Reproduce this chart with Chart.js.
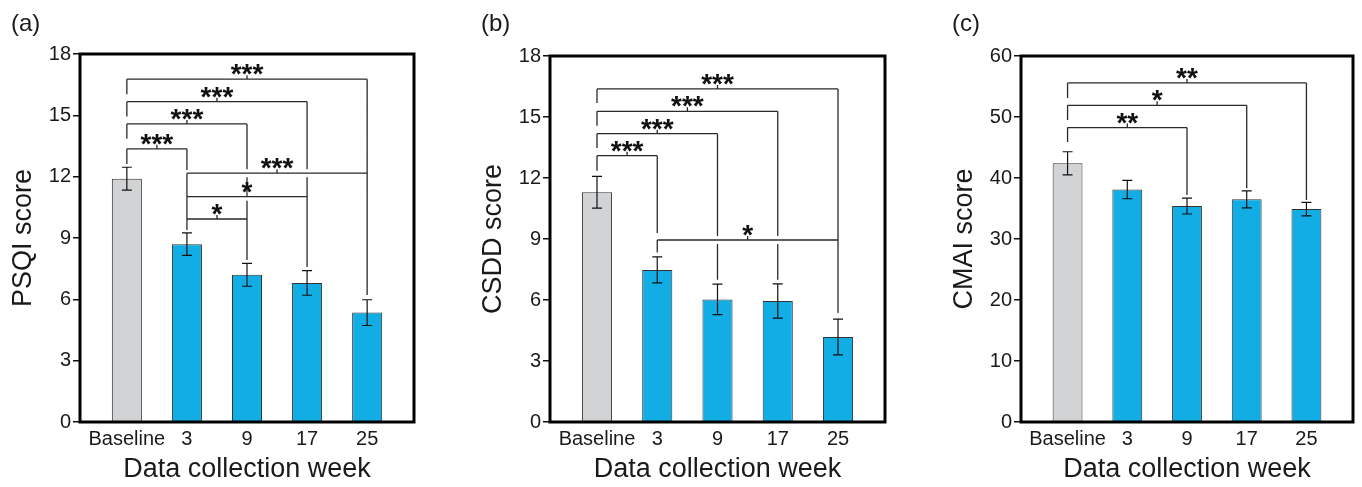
<!DOCTYPE html>
<html>
<head>
<meta charset="utf-8">
<script src="https://cdn.jsdelivr.net/npm/chart.js@4.4.1/dist/chart.umd.min.js"></script>
<style>
  html, body { margin: 0; padding: 0; background: #fff; width: 1362px; height: 487px; overflow: hidden; }
  canvas { position: absolute; top: 0; }
</style>
</head>
<body>
<canvas id="panelA" width="430" height="487" style="left:0px"></canvas>
<canvas id="panelB" width="430" height="487" style="left:470px"></canvas>
<canvas id="panelC" width="421" height="487" style="left:941px"></canvas>
<script>
const weeks = ['Baseline', '3', '9', '17', '25'];

const psqiMean = [11.9, 8.7, 7.2, 6.8, 5.35];
const psqiErr = [0.56, 0.55, 0.56, 0.6, 0.63];

const csddMean = [11.3, 7.48, 6.03, 5.95, 4.18];
const csddErr = [0.78, 0.64, 0.75, 0.84, 0.88];

const cmaiMean = [42.4, 38.1, 35.4, 36.5, 34.9];
const cmaiErr = [1.9, 1.5, 1.3, 1.4, 1.1];

// significance brackets: bar indexes, bracket height and leg ends in score units
const psqiSig = [
    { from: 0, to: 1, at: 13.36, leftTo: 12.62, rightTo: 12.33, text: '***' },
    { from: 0, to: 2, at: 14.58, leftTo: 13.85, rightTo: 7.93, text: '***' },
    { from: 0, to: 3, at: 15.67, leftTo: 14.94, rightTo: 7.58, text: '***' },
    { from: 0, to: 4, at: 16.77, leftTo: 16.03, rightTo: 6.21, text: '***' },
    { from: 1, to: 4, at: 12.17, leftTo: 9.39, rightTo: 6.21, text: '***' },
    { from: 1, to: 3, at: 11.02, leftTo: 9.39, rightTo: 7.58, text: '*' },
    { from: 1, to: 2, at: 9.93, leftTo: 9.39, rightTo: 7.93, text: '*' },
];
const csddSig = [
    { from: 0, to: 1, at: 13.1, leftTo: 12.36, rightTo: 9.29, text: '***' },
    { from: 0, to: 2, at: 14.18, leftTo: 13.48, rightTo: 7.0, text: '***' },
    { from: 0, to: 3, at: 15.28, leftTo: 14.57, rightTo: 7.0, text: '***' },
    { from: 0, to: 4, at: 16.38, leftTo: 15.69, rightTo: 5.36, text: '***' },
    { from: 1, to: 4, at: 8.95, leftTo: 8.33, rightTo: 5.36, text: '*' },
];
const cmaiSig = [
    { from: 0, to: 2, at: 48.26, leftTo: 45.9, rightTo: 37.23, text: '**' },
    { from: 0, to: 3, at: 51.92, leftTo: 49.5, rightTo: 38.33, text: '*' },
    { from: 0, to: 4, at: 55.58, leftTo: 53.1, rightTo: 36.4, text: '**' },
];

const BLUE = '#11ADE4';
const GREY = '#D2D3D5';
const INK = '#1a1a1a';

Chart.defaults.font.family = '"Liberation Sans", Arial, sans-serif';

const extras = (label, means, errs, sig) => ({
    id: 'extras',
    afterDatasetsDraw: chart => {
        const { ctx, chartArea: area, scales: { x, y } } = chart;
        ctx.save();

        // error bars
        ctx.strokeStyle = '#111';
        ctx.lineWidth = 1.2;
        ctx.beginPath();
        means.forEach((m, i) => {
            const px = x.getPixelForValue(i);
            const top = y.getPixelForValue(m + errs[i]);
            const bot = y.getPixelForValue(m - errs[i]);
            ctx.moveTo(px, top); ctx.lineTo(px, bot);
            ctx.moveTo(px - 5, top); ctx.lineTo(px + 5, top);
            ctx.moveTo(px - 5, bot); ctx.lineTo(px + 5, bot);
        });
        ctx.stroke();

        const br = sig.map(s => ({
            x1: x.getPixelForValue(s.from),
            x2: x.getPixelForValue(s.to),
            y0: y.getPixelForValue(s.at),
            yl: y.getPixelForValue(s.leftTo),
            yr: y.getPixelForValue(s.rightTo),
            text: s.text
        }));

        ctx.strokeStyle = '#2a2a2a';
        ctx.lineWidth = 1.3;
        ctx.beginPath();
        br.forEach(b => {
            ctx.moveTo(b.x1, b.y0); ctx.lineTo(b.x1, b.yl);
            ctx.moveTo(b.x2, b.y0); ctx.lineTo(b.x2, b.yr);
        });
        ctx.stroke();

        // small white gaps where a bracket crosses other legs
        ctx.fillStyle = '#fff';
        br.forEach(b => ctx.fillRect(b.x1 + 2, b.y0 - 4, b.x2 - b.x1 - 4, 8));

        ctx.beginPath();
        br.forEach(b => {
            const c = (b.x1 + b.x2) / 2;
            ctx.moveTo(b.x1, b.y0); ctx.lineTo(b.x2, b.y0);
            ctx.moveTo(c, b.y0); ctx.lineTo(c, b.y0 - 4);
        });
        ctx.stroke();

        ctx.fillStyle = '#111';
        ctx.font = 'bold 28px "Liberation Sans", Arial, sans-serif';
        ctx.textAlign = 'center';
        ctx.textBaseline = 'alphabetic';
        br.forEach(b => ctx.fillText(b.text, (b.x1 + b.x2) / 2, b.y0 + 4));

        // box round the plot
        ctx.lineWidth = 3;
        ctx.strokeStyle = '#000';
        ctx.strokeRect(area.left, area.top, area.right - area.left, area.bottom - area.top);

        ctx.fillStyle = INK;
        ctx.font = '24px "Liberation Sans", Arial, sans-serif';
        ctx.textAlign = 'left';
        ctx.textBaseline = 'middle';
        ctx.fillText(label, 11, 24);
        ctx.restore();
    }
});

const makePanel = (id, label, yTitle, means, errs, sig, yMax, yStep, padTop, padRight) => {
    return new Chart(document.getElementById(id).getContext('2d'), {
        type: 'bar',
        data: {
            datasets: [{
                data: means.map((m, i) => ({ x: i, y: m })),
                backgroundColor: weeks.map((w, i) => i === 0 ? GREY : BLUE),
                borderColor: '#333',
                borderWidth: 1,
                categoryPercentage: 1,
                barPercentage: 0.5,
            }]
        },
        options: {
            responsive: false,
            animation: false,
            layout: { padding: { left: 0, right: padRight, top: padTop, bottom: 0 } },
            plugins: {
                legend: { display: false },
                tooltip: { enabled: false },
            },
            scales: {
                x: {
                    type: 'linear',
                    offset: false,
                    min: -0.78,
                    max: 4.78,
                    afterBuildTicks: s => { s.ticks = weeks.map((w, i) => ({ value: i })); },
                    afterFit: s => { s.height = 65; },
                    ticks: {
                        callback: v => weeks[v],
                        autoSkip: false,
                        maxRotation: 0,
                        padding: 5,
                        color: INK,
                        font: { size: 20 },
                    },
                    grid: { display: false, drawTicks: false, offset: false },
                    border: { display: false },
                    title: {
                        display: true,
                        text: 'Data collection week',
                        color: INK,
                        font: { size: 27 },
                        padding: { top: 0, bottom: 1 },
                    },
                },
                y: {
                    min: 0,
                    max: yMax,
                    afterFit: s => { s.width = 80; },
                    ticks: { stepSize: yStep, padding: 2, color: INK, font: { size: 20 } },
                    grid: { drawOnChartArea: false, drawTicks: true, tickLength: 7, color: '#111', lineWidth: 1.5 },
                    border: { display: false },
                    title: {
                        display: true,
                        text: yTitle,
                        color: INK,
                        font: { size: 27 },
                        padding: { top: 7, bottom: 0 },
                    },
                },
            },
        },
        plugins: [extras(label, means, errs, sig)],
    });
};

makePanel('panelA', '(a)', 'PSQI score', psqiMean, psqiErr, psqiSig, 18, 3, 54, 16);
makePanel('panelB', '(b)', 'CSDD score', csddMean, csddErr, csddSig, 18, 3, 56, 15);
makePanel('panelC', '(c)', 'CMAI score', cmaiMean, cmaiErr, cmaiSig, 60, 10, 56, 9);
</script>
</body>
</html>
